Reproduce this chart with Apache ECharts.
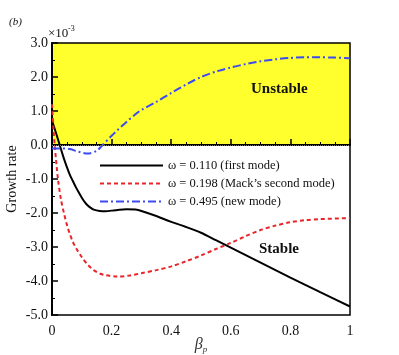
<!DOCTYPE html>
<html lang="en">
<head>
    <meta charset="UTF-8">
    <title>Growth rate</title>
    <script src="https://cdn.jsdelivr.net/npm/echarts@6/dist/echarts.min.js"></script>
</head>
<body style="margin:0">
<div id="main" style="width: 399px;height:355px;"></div>
</body>
<script type="text/javascript">
    // data (growth rate in units of 1e-3)
    var betaFirst = [0, 0.01, 0.02, 0.03, 0.04, 0.05, 0.06, 0.07, 0.08, 0.09, 0.1, 0.11, 0.12, 0.13, 0.14, 0.16, 0.18, 0.2, 0.22, 0.25, 0.28, 0.3, 0.35, 0.4, 0.45, 0.5, 0.55, 0.6, 0.7, 0.8, 0.9, 1.0];
    var firstMode = [0.72, 0.45, 0.17, -0.12, -0.4, -0.65, -0.88, -1.06, -1.24, -1.4, -1.55, -1.68, -1.78, -1.85, -1.9, -1.94, -1.95, -1.93, -1.91, -1.89, -1.9, -1.94, -2.09, -2.26, -2.41, -2.58, -2.8, -3.02, -3.46, -3.9, -4.33, -4.75];

    var betaSecond = [0, 0.005, 0.01, 0.02, 0.03, 0.04, 0.05, 0.06, 0.07, 0.08, 0.1, 0.12, 0.14, 0.16, 0.18, 0.22, 0.26, 0.3, 0.35, 0.4, 0.45, 0.5, 0.55, 0.6, 0.65, 0.7, 0.75, 0.8, 0.85, 0.9, 1.0];
    var secondMode = [1.2, 0.45, -0.1, -1.0, -1.6, -2.0, -2.35, -2.62, -2.85, -3.02, -3.3, -3.52, -3.68, -3.78, -3.83, -3.87, -3.84, -3.77, -3.68, -3.57, -3.42, -3.25, -3.06, -2.88, -2.68, -2.5, -2.37, -2.27, -2.21, -2.18, -2.15];

    var betaNew = [0, 0.03, 0.06, 0.09, 0.12, 0.15, 0.17, 0.2, 0.22, 0.25, 0.285, 0.3, 0.35, 0.4, 0.45, 0.5, 0.55, 0.6, 0.65, 0.7, 0.75, 0.8, 0.85, 0.9, 0.95, 1.0];
    var newMode = [-0.1, -0.1, -0.12, -0.2, -0.25, -0.17, 0.0, 0.27, 0.44, 0.68, 0.94, 1.03, 1.27, 1.53, 1.78, 2.0, 2.16, 2.28, 2.38, 2.46, 2.52, 2.56, 2.58, 2.58, 2.57, 2.55];

    var seriesNames = ['\u03c9 = 0.110 (first mode)', '\u03c9 = 0.198 (Mack\u2019s second mode)', '\u03c9 = 0.495 (new mode)'];

    function pairs(xs, ys) {
        return xs.map(function (x, i) { return [x, ys[i]]; });
    }

    var serif = 'Liberation Serif';
    var myChart = echarts.init(document.getElementById('main'));

    var option = {
        animation: false,
        textStyle: { fontFamily: serif },
        grid: {
            left: 52, top: 43, width: 298, height: 272,
            outerBoundsMode: 'none', containLabel: false,
            show: true, borderColor: '#000', borderWidth: 1.5, backgroundColor: 'transparent'
        },
        legend: {
            orient: 'vertical',
            left: 94, top: 154,
            itemWidth: 63, itemHeight: 10, itemGap: 5,
            itemStyle: { opacity: 0 },
            textStyle: { fontFamily: serif, fontSize: 12.5, color: '#111' },
            data: seriesNames
        },
        xAxis: {
            type: 'value', min: 0, max: 1, interval: 0.2,
            name: '{b|β}{p|p}', nameLocation: 'middle', nameGap: 21, nameMoveOverlap: false,
            nameTextStyle: {
                rich: {
                    b: { fontFamily: serif, fontStyle: 'italic', fontSize: 16, color: '#333', lineHeight: 18 },
                    p: { fontFamily: serif, fontStyle: 'italic', fontSize: 9, color: '#333', lineHeight: 18, verticalAlign: 'bottom' }
                }
            },
            axisLine: { lineStyle: { color: '#000', width: 2 } },
            axisTick: { inside: true, length: 6, lineStyle: { color: '#000', width: 1.5 } },
            minorTick: { show: true, splitNumber: 4, length: 3, lineStyle: { color: '#000' } },
            splitLine: { show: false },
            axisLabel: { fontFamily: serif, fontSize: 14, color: '#111', margin: 9,
                formatter: function (v) { return v === 0 || v === 1 ? String(v) : v.toFixed(1); } }
        },
        yAxis: {
            type: 'value', min: -5, max: 3, interval: 1,
            name: 'Growth rate', nameLocation: 'middle', nameGap: 33, nameRotate: 90, nameMoveOverlap: false,
            nameTextStyle: { fontFamily: serif, fontSize: 14, color: '#111' },
            axisLine: { onZero: false, lineStyle: { color: '#000', width: 2 } },
            axisTick: { inside: true, length: 6, lineStyle: { color: '#000', width: 1.5 } },
            minorTick: { show: true, splitNumber: 2, length: 3, lineStyle: { color: '#000' } },
            splitLine: { show: false },
            axisLabel: { fontFamily: serif, fontSize: 14, color: '#111', margin: 4,
                formatter: function (v) { return v.toFixed(1); } }
        },
        graphic: [
            { type: 'text', left: 9, top: 17, style: { text: '(b)', font: 'italic 11px "Liberation Serif"', fill: '#111' } },
            { type: 'text', left: 48, top: 27, style: { text: '\u00d710', font: '13px "Liberation Serif"', fill: '#111' } },
            { type: 'text', left: 68, top: 25, style: { text: '-3', font: '8px "Liberation Serif"', fill: '#111' } },
            { type: 'text', left: 251, top: 82, style: { text: 'Unstable', font: 'bold 15px "Liberation Serif"', fill: '#111' } },
            { type: 'text', left: 259, top: 242, style: { text: 'Stable', font: 'bold 15px "Liberation Serif"', fill: '#111' } }
        ],
        series: [
            {
                name: seriesNames[0], type: 'line', smooth: 0.3, symbol: 'none',
                lineStyle: { color: '#000', width: 2 }, itemStyle: { color: '#000' },
                data: pairs(betaFirst, firstMode),
                markArea: {
                    silent: true, z: -1,
                    itemStyle: { color: '#ffff2e' },
                    data: [[{ xAxis: 0, yAxis: 0 }, { xAxis: 1, yAxis: 3 }]]
                },
                markLine: {
                    silent: true, symbol: 'none', label: { show: false },
                    lineStyle: { color: '#777', type: [1, 1], width: 1 },
                    data: [{ yAxis: 0 }]
                }
            },
            {
                name: seriesNames[1], type: 'line', smooth: 0.3, symbol: 'none',
                lineStyle: { color: '#e8262a', width: 2, type: [4, 3] }, itemStyle: { color: '#e8262a' },
                data: pairs(betaSecond, secondMode)
            },
            {
                name: seriesNames[2], type: 'line', smooth: 0.3, symbol: 'none',
                lineStyle: { color: '#3c4bf0', width: 2, type: [8, 3, 2, 3] }, itemStyle: { color: '#3c4bf0' },
                data: pairs(betaNew, newMode)
            }
        ]
    };

    myChart.setOption(option);
</script>
</html>
